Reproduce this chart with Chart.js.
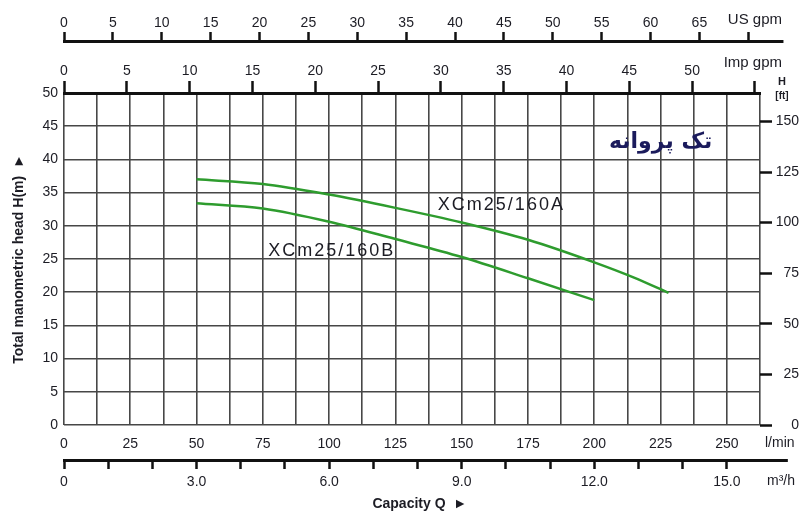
<!DOCTYPE html>
<html>
<head>
<meta charset="utf-8">
<script src="https://cdn.jsdelivr.net/npm/chart.js@4.4.0/dist/chart.umd.min.js"></script>
<style>
  html, body { margin: 0; padding: 0; background: #fff; }
  canvas { display: block; }
</style>
</head>
<body>
<canvas id="pumpChart" width="802" height="514"></canvas>
<script>
// pump curves, head H(m) against capacity Q (l/min)
var flowA = [50, 75, 100, 125, 150, 175, 200, 215, 228];
var headA = [37.0, 36.3, 34.7, 32.7, 30.5, 27.9, 24.5, 22.2, 19.9];
var flowB = [50, 75, 100, 125, 150, 175, 200];
var headB = [33.4, 32.6, 30.6, 28.0, 25.3, 22.1, 18.8];
var seriesNames = ['XCm25/160A', 'XCm25/160B'];

// ticks of every axis
var lminTicks = [0, 12.5, 25, 37.5, 50, 62.5, 75, 87.5, 100, 112.5, 125, 137.5, 150, 162.5, 175, 187.5, 200, 212.5, 225, 237.5, 250, 262.5];
var lminLabels = [0, 25, 50, 75, 100, 125, 150, 175, 200, 225, 250];
var m3hTicks = [0, 1, 2, 3, 4, 5, 6, 7, 8, 9, 10, 11, 12, 13, 14, 15];
var m3hLabels = ['0', '', '', '3.0', '', '', '6.0', '', '', '9.0', '', '', '12.0', '', '', '15.0'];
var usGpmTicks = [0, 5, 10, 15, 20, 25, 30, 35, 40, 45, 50, 55, 60, 65, 70];
var usGpmLabels = ['0', '5', '10', '15', '20', '25', '30', '35', '40', '45', '50', '55', '60', '65', ''];
var impGpmTicks = [0, 5, 10, 15, 20, 25, 30, 35, 40, 45, 50, 55];
var impGpmLabels = ['0', '5', '10', '15', '20', '25', '30', '35', '40', '45', '50', ''];
var headTicks = [0, 5, 10, 15, 20, 25, 30, 35, 40, 45, 50];
var ftTicks = [0, 25, 50, 75, 100, 125, 150];

var INK = '#1c1c24';
var GRID = '#474747';
var GREEN = '#2e9c2e';

Chart.defaults.font.family = '"Liberation Sans", Arial, sans-serif';
Chart.defaults.font.size = 14;
Chart.defaults.color = INK;

function setTicks(list) {
  return function (scale) {
    scale.ticks = list.map(function (v) { return { value: v }; });
  };
}
function fixHeight(h) { return function (scale) { scale.height = h; }; }
function fixWidth(w) { return function (scale) { scale.width = w; }; }
function pick(values, labels) {
  return function (v) {
    var i = values.indexOf(v);
    return i >= 0 ? labels[i] : '';
  };
}

var extras = {
  id: 'extras',
  afterDraw: function (chart) {
    var ctx = chart.ctx;
    var sx = chart.scales.x, sy = chart.scales.y;
    var us = chart.scales.xus, m3 = chart.scales.xm3, ft = chart.scales.yft;
    ctx.save();
    ctx.strokeStyle = '#111';
    ctx.lineWidth = 3;
    // long axis lines running past the plot
    ctx.beginPath();
    ctx.moveTo(us.getPixelForValue(0) - 1, us.bottom - 1.5);
    ctx.lineTo(us.getPixelForValue(73.6), us.bottom - 1.5);
    ctx.stroke();
    ctx.beginPath();
    ctx.moveTo(m3.getPixelForValue(0) - 1, m3.top + 1.5);
    ctx.lineTo(m3.getPixelForValue(16.38), m3.top + 1.5);
    ctx.stroke();

    ctx.fillStyle = INK;
    ctx.textBaseline = 'middle';
    ctx.font = '15px "Liberation Sans", Arial, sans-serif';
    ctx.textAlign = 'right';
    ctx.fillText('US gpm', 782, 20);
    ctx.fillText('Imp gpm', 782, 63);
    ctx.textAlign = 'left';
    ctx.font = '14px "Liberation Sans", Arial, sans-serif';
    ctx.fillText('l/min', m3.right + 5, 443);
    ctx.fillText('m\u00b3/h', m3.right + 7, 481);
    ctx.textAlign = 'center';
    ctx.font = 'bold 11px "Liberation Sans", Arial, sans-serif';
    ctx.fillText('H', ft.left + 22, chart.chartArea.top - 11);
    ctx.font = 'bold 10px "Liberation Sans", Arial, sans-serif';
    ctx.fillText('[ft]', ft.left + 22, chart.chartArea.top + 3);

    // curve names
    ctx.textAlign = 'left';
    ctx.font = '18px "Liberation Sans", Arial, sans-serif';
    ctx.letterSpacing = '2px';
    ctx.fillText(seriesNames[0], sx.getPixelForValue(141), sy.getPixelForValue(33.1));
    ctx.fillText(seriesNames[1], sx.getPixelForValue(77), sy.getPixelForValue(26.2));
    ctx.letterSpacing = '0px';

    ctx.textAlign = 'center';
    ctx.fillStyle = '#1b1b5c';
    ctx.font = 'bold 22px "DejaVu Sans", sans-serif';
    ctx.fillText('تک پروانه', sx.getPixelForValue(225), sy.getPixelForValue(42.6));
    ctx.restore();
  }
};

new Chart(document.getElementById('pumpChart'), {
  type: 'line',
  data: {
    datasets: [{
      label: seriesNames[0],
      data: flowA.map(function (q, i) { return { x: q, y: headA[i] }; }),
      borderColor: GREEN, borderWidth: 2.5, pointRadius: 0,
      cubicInterpolationMode: 'monotone', fill: false
    }, {
      label: seriesNames[1],
      data: flowB.map(function (q, i) { return { x: q, y: headB[i] }; }),
      borderColor: GREEN, borderWidth: 2.5, pointRadius: 0,
      cubicInterpolationMode: 'monotone', fill: false
    }]
  },
  options: {
    responsive: false,
    animation: false,
    layout: { padding: { right: 3 } },
    plugins: { legend: { display: false }, tooltip: { enabled: false } },
    scales: {
      x: {
        type: 'linear', position: 'bottom', weight: 0, min: 0, max: 262.5,
        afterBuildTicks: setTicks(lminTicks), afterFit: fixHeight(34),
        grid: { color: GRID, lineWidth: 1.6, drawTicks: false },
        border: { display: false },
        ticks: { autoSkip: false, maxRotation: 0, padding: 11, callback: pick(lminLabels, lminLabels.map(String)) }
      },
      xm3: {
        type: 'linear', position: 'bottom', weight: 1, min: 0, max: 15.75,
        afterBuildTicks: setTicks(m3hTicks), afterFit: fixHeight(55),
        grid: { drawOnChartArea: false, tickLength: 10, tickWidth: 2.5, tickColor: '#111' },
        border: { display: false },
        ticks: { autoSkip: false, maxRotation: 0, padding: 5, callback: pick(m3hTicks, m3hLabels) },
        title: { display: true, text: '    Capacity Q  \u25ba', font: { weight: 'bold', size: 14 }, padding: { top: 1, bottom: 1 } }
      },
      ximp: {
        type: 'linear', position: 'top', weight: 0, min: 0, max: 55.4,
        afterBuildTicks: setTicks(impGpmTicks), afterFit: fixHeight(50),
        grid: { drawOnChartArea: false, tickLength: 12, tickWidth: 2.5, tickColor: '#111' },
        border: { display: true, color: '#111', width: 3 },
        ticks: { autoSkip: false, maxRotation: 0, padding: 1, callback: pick(impGpmTicks, impGpmLabels) }
      },
      xus: {
        type: 'linear', position: 'top', weight: 1, min: 0, max: 71.2,
        afterBuildTicks: setTicks(usGpmTicks), afterFit: fixHeight(43),
        grid: { drawOnChartArea: false, tickLength: 11, tickWidth: 2.5, tickColor: '#111' },
        border: { display: false },
        ticks: { autoSkip: false, maxRotation: 0, padding: 0, callback: pick(usGpmTicks, usGpmLabels) }
      },
      y: {
        type: 'linear', position: 'left', min: 0, max: 50,
        afterBuildTicks: setTicks(headTicks), afterFit: fixWidth(64),
        grid: { color: GRID, lineWidth: 1.6, drawTicks: false },
        border: { display: false },
        ticks: { padding: 6 },
        title: { display: true, text: 'Total manometric head H(m)  \u25ba', font: { weight: 'bold', size: 14 }, padding: { top: 11, bottom: 11 } }
      },
      yft: {
        type: 'linear', position: 'right', min: 0, max: 164.04,
        afterBuildTicks: setTicks(ftTicks), afterFit: fixWidth(39),
        grid: { drawOnChartArea: false, tickLength: 12, tickWidth: 2.5, tickColor: '#111' },
        border: { display: false },
        ticks: { crossAlign: 'far', padding: 2 }
      }
    }
  },
  plugins: [extras]
});
</script>
</body>
</html>
